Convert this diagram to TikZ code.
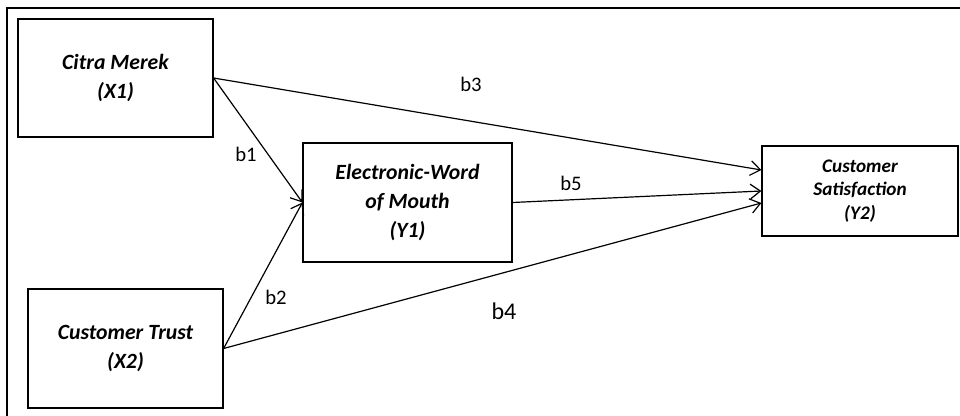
\documentclass[tikz,border=0pt]{standalone}
\usepackage{fontspec}
\setmainfont{Carlito}
\usetikzlibrary{arrows.meta}

\begin{document}
\begin{tikzpicture}[x=0.75pt,y=-0.75pt,
  var/.style={draw,line width=0.9pt,align=center,inner sep=0pt,
    font=\fontsize{16.3}{21.5}\selectfont\bfseries\itshape},
  arr/.style={draw,line width=0.9pt,-{Straight Barb[length=7.5pt,width=11pt]}},
  coef/.style={font=\fontsize{15.5}{18}\selectfont,inner sep=0pt}]
\useasboundingbox (0,0) rectangle (960,416);
% frame
\draw[line width=1.1pt] (7,416) -- (7,8) -- (960,8);
\node[var,minimum width=146.25pt,minimum height=88.5pt] (X1) at (115.5,78) {Citra Merek\\(X1)};
\node[var,minimum width=146.25pt,minimum height=89.25pt] (X2) at (125.5,348.5) {Customer Trust\\(X2)};
\node[var,minimum width=156.75pt,minimum height=89.25pt] (Y1) at (407.5,202.5) {Electronic-Word\\of Mouth\\(Y1)};
\node[var,minimum width=147pt,minimum height=67.5pt,
  font=\fontsize{14.4}{17.6}\selectfont\bfseries\itshape] (Y2) at (860,191) {Customer\\Satisfaction\\(Y2)};
% paths
\draw[arr] (X1.east) -- (Y1.west);
\draw[arr] (X2.east) -- (Y1.west);
\draw[arr] (X1.east) -- ([yshift=15.75pt]Y2.west);
\draw[arr] (Y1.east) -- (Y2.west);
\draw[arr] (X2.east) -- ([yshift=-9pt]Y2.west);
% coefficients
\node[coef] (b1) at (246,154) {b1};
\node[coef] (b2) at (276,297) {b2};
\node[coef] (b3) at (471,84) {b3};
\node[coef] (b5) at (571,183) {b5};
\node[coef,font=\fontsize{18}{20}\selectfont] (b4) at (504,311) {b4};
\end{tikzpicture}
\end{document}
